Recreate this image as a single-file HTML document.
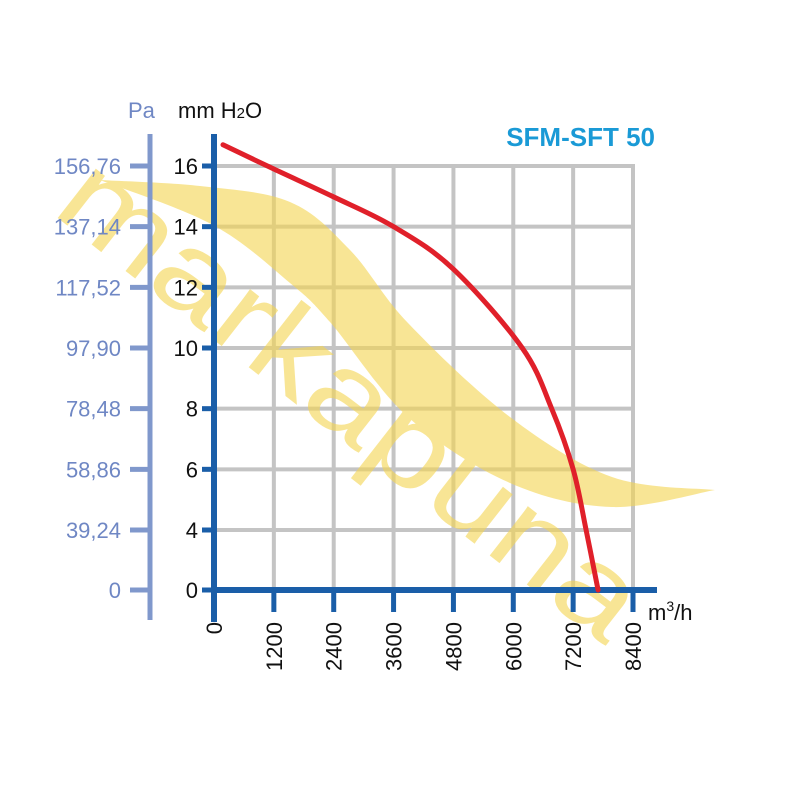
<!DOCTYPE html>
<html><head><meta charset="utf-8"><style>
html,body{margin:0;padding:0;background:#fff;}
svg{display:block;font-family:"Liberation Sans",Arial,sans-serif;}
</style></head><body>
<svg id="chart" width="800" height="800" viewBox="0 0 800 800">
<g id="grid"></g>
<g id="wm" opacity="0.6">
<path id="swoosh" fill="#f5d550"/>
<text x="0" y="0" font-size="118" fill="#f5d550" textLength="705" lengthAdjust="spacingAndGlyphs" transform="translate(50,212) rotate(38)">markapuna</text>
</g>
<g id="axes"></g>
<text x="128" y="118" font-size="22" fill="#6f87c4">Pa</text>
<text x="178" y="118" font-size="22" fill="#111">mm H<tspan font-size="15">2</tspan>O</text>
<text x="655" y="146" font-size="26" font-weight="bold" fill="#1a9ad6" text-anchor="end">SFM-SFT 50</text>
<text x="648" y="620" font-size="22" fill="#111">m<tspan font-size="14" dy="-9">3</tspan><tspan dy="9">/h</tspan></text>
<path id="curve" fill="none" stroke="#e0202a" stroke-width="5" stroke-linecap="round"/>
</svg>
<script>
const xTicks=[0,1200,2400,3600,4800,6000,7200,8400];
const yTicks=[0,4,6,8,10,12,14,16];
const paLabels=["0","39,24","58,86","78,48","97,90","117,52","137,14","156,76"];
const paValues=[0,4,6,8,10,12,14,16];
const flowValues=[180,1200,2400,3600,4800,6180,6770,7200,7460,7700];
const pressureValues=[16.7,15.9,14.98,14.0,12.6,10.0,8.0,6.0,4.0,0.0];
const NS="http://www.w3.org/2000/svg";
const X0=214,PX=(633-214)/8400,Y0=590,Y4=530,PY=(530-166)/12;
const sx=v=>X0+v*PX;
const sy=v=>v<=4?Y0-v*(Y0-Y4)/4:Y4-(v-4)*PY;
function mk(tag,attrs,parent){const e=document.createElementNS(NS,tag);for(const k in attrs)e.setAttribute(k,attrs[k]);parent.appendChild(e);return e;}
function smooth(pts){let d=`M${pts[0][0]},${pts[0][1]}`;
for(let i=0;i<pts.length-1;i++){const p0=pts[Math.max(0,i-1)],p1=pts[i],p2=pts[i+1],p3=pts[Math.min(pts.length-1,i+2)];
d+=` C${p1[0]+(p2[0]-p0[0])/6},${p1[1]+(p2[1]-p0[1])/6} ${p2[0]-(p3[0]-p1[0])/6},${p2[1]-(p3[1]-p1[1])/6} ${p2[0]},${p2[1]}`;}return d;}
const up=[[100,180],[200,186],[290,202],[350,250],[408,323],[510,417],[612,477],[715,490]];
const lo=[[715,490],[612,507],[510,483],[408,417],[330,322],[290,283],[213,225],[100,180]];
document.getElementById('swoosh').setAttribute('d',smooth(up)+' '+smooth(lo).replace(/^M[^C]*/,'')+'Z');
const grid=document.getElementById('grid'),axes=document.getElementById('axes');
xTicks.forEach(v=>{if(v===0)return;const l=mk('line',{x1:sx(v),x2:sx(v),y1:sy(16)-2,y2:Y0,stroke:'#c4c4c4','stroke-width':4},grid);

});
yTicks.forEach(v=>{if(v===0)return;const l=mk('line',{x1:X0,x2:sx(8400)+2,y1:sy(v),y2:sy(v),stroke:'#c4c4c4','stroke-width':4},grid);

});
const pa=mk('line',{x1:150,x2:150,y1:134,y2:620,stroke:'#8098cc','stroke-width':5},axes);


paValues.forEach((v,i)=>{const t=mk('line',{x1:130,x2:150,y1:sy(v),y2:sy(v),stroke:'#8098cc','stroke-width':5},axes);


const tx=mk('text',{x:121,y:sy(v)+8,'font-size':22,fill:'#6f87c4','text-anchor':'end'},axes);tx.textContent=paLabels[i];

});
const ya=mk('line',{x1:X0,x2:X0,y1:134,y2:622,stroke:'#1a5ea8','stroke-width':6},axes);


const xa=mk('line',{x1:X0-3,x2:657,y1:Y0,y2:Y0,stroke:'#1a5ea8','stroke-width':6},axes);


yTicks.forEach(v=>{const t=mk('line',{x1:X0-12,x2:X0,y1:sy(v),y2:sy(v),stroke:'#1a5ea8','stroke-width':5},axes);


const tx=mk('text',{x:X0-16,y:sy(v)+8,'font-size':22,fill:'#111','text-anchor':'end'},axes);tx.textContent=v;

});
xTicks.forEach(v=>{const t=mk('line',{x1:sx(v),x2:sx(v),y1:Y0,y2:612,stroke:'#1a5ea8','stroke-width':5},axes);


const tx=mk('text',{x:0,y:0,'font-size':22,fill:'#111','text-anchor':'end',transform:`translate(${sx(v)+8},622) rotate(-90)`},axes);tx.textContent=v;

});
const pts=flowValues.map((f,i)=>[sx(f),sy(pressureValues[i])]);
document.getElementById('curve').setAttribute('d',smooth(pts));
</script>
</body></html>
